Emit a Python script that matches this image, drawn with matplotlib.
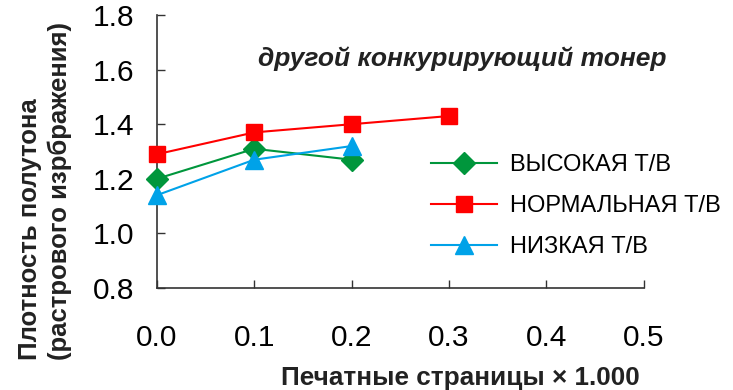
import matplotlib.pyplot as plt

plt.rcParams['font.family'] = ['Liberation Sans', 'DejaVu Sans']

# Page count (thousands) and halftone density for each toner density setting
pages_high = [0.0, 0.1, 0.2]
density_high = [1.20, 1.31, 1.27]

pages_normal = [0.0, 0.1, 0.2, 0.3]
density_normal = [1.29, 1.37, 1.40, 1.43]

pages_low = [0.0, 0.1, 0.2]
density_low = [1.14, 1.27, 1.32]

x_ticks = [0.0, 0.1, 0.2, 0.3, 0.4, 0.5]
y_ticks = [0.8, 1.0, 1.2, 1.4, 1.6, 1.8]

fig = plt.figure(figsize=(7.33, 3.9), dpi=100)
ax = fig.add_axes([0.214, 0.2615, 0.6644, 0.7])

ax.plot(pages_high, density_high, color='#00963C', marker='D', markersize=11,
        linewidth=1.5, label='ВЫСОКАЯ Т/В', clip_on=False, zorder=3)
ax.plot(pages_normal, density_normal, color='#FF0000', marker='s', markersize=12,
        linewidth=1.5, label='НОРМАЛЬНАЯ Т/В', clip_on=False, zorder=3)
ax.plot(pages_low, density_low, color='#00A2E8', marker='^', markersize=13,
        linewidth=1.5, label='НИЗКАЯ Т/В', clip_on=False, zorder=3)

ax.set_xlim(0, 0.5)
ax.set_ylim(0.8, 1.8)
ax.set_xticks(x_ticks)
ax.set_yticks(y_ticks)
ax.set_xticklabels([f'{v:.1f}' for v in x_ticks])
ax.set_yticklabels([f'{v:.1f}' for v in y_ticks])
ax.tick_params(axis='both', direction='in', length=6, width=1, labelsize=21.5,
               color='#333333')
ax.tick_params(axis='x', pad=26)
ax.tick_params(axis='y', pad=16)

for side in ['top', 'right']:
    ax.spines[side].set_visible(False)
for side in ['left', 'bottom']:
    ax.spines[side].set_color('#333333')
    ax.spines[side].set_linewidth(1.2)

# axis titles sit off-centre, so place them in figure coordinates
fig.text(460 / 733, 1 - 378 / 390, 'Печатные страницы × 1.000', fontsize=18.8,
         fontweight='bold', color='#222222', ha='center', va='center')
fig.text(45 / 733, 1 - 191 / 390, 'Плотность полутона\n(растрового изрбражения)',
         fontsize=18.5, fontweight='bold', color='#222222', rotation=90,
         ha='center', va='center', linespacing=1.3, multialignment='left')

ax.text(0.627, 0.84, 'другой конкурирующий тонер', transform=ax.transAxes,
        fontsize=19, fontweight='bold', fontstyle='italic', color='#222222',
        ha='center', va='center')

ax.legend(loc='center left', bbox_to_anchor=(0.52, 0.30), frameon=False,
          fontsize=17, handlelength=2.8, handletextpad=0.55, labelspacing=0.8)

fig.savefig('out.png', dpi=100)
